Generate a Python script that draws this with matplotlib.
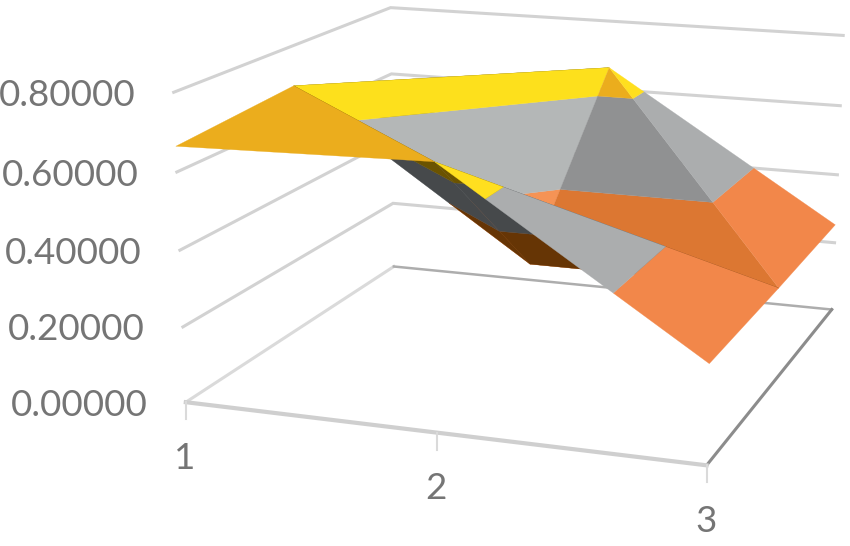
import numpy as np
import matplotlib
matplotlib.use("Agg")
import matplotlib.pyplot as plt

plt.rcParams['font.family'] = ['Lato', 'DejaVu Sans']

# values, one row per series (front to back), one column per category
categories = ['1', '2', '3']
z_ticks = [0.0, 0.2, 0.4, 0.6, 0.8]
series1 = [0.665, 0.68, 0.252]
series2 = [0.69, 0.25, 0.25]
series3 = [0.45, 0.664, 0.253]
Z = np.array([series1, series2, series3])

# where the chart frame sits in the picture: (u, v, z) -> pixel
frame_3d = [(0, 0, 0), (1, 0, 0), (1, 1, 0), (0, 1, 0),
            (0, 0, 0.8), (0, 1, 0.8), (1, 1, 0.8),
            (0, 0, 0.4), (0, 1, 0.4), (1, 1, 0.4)]
frame_px = [(187, 402), (707, 465), (832, 310), (393, 267),
            (173, 93), (392, 8), (843, 35),
            (179, 250), (392, 138), (837, 175)]

A = []
b = []
for (u, v, z), (px, py) in zip(frame_3d, frame_px):
    A.append([u, v, z, 1, 0, 0, 0, 0, -px * u, -px * v, -px * z])
    b.append(px)
    A.append([0, 0, 0, 0, u, v, z, 1, -py * u, -py * v, -py * z])
    b.append(py)
h = np.linalg.lstsq(np.array(A, float), np.array(b, float), rcond=None)[0]
P = np.append(h, 1).reshape(3, 4)


def project(u, v, z):
    p = P @ np.array([u, v, z, 1.0])
    return p[0] / p[2], p[1] / p[2]


def clip(poly, level, keep_above):
    # cut a polygon at a height, keeps the part above or below
    out = []
    for i in range(len(poly)):
        a = poly[i]
        c = poly[(i + 1) % len(poly)]
        a_in = (a[2] >= level) == keep_above
        c_in = (c[2] >= level) == keep_above
        if a_in:
            out.append(a)
        if a_in != c_in:
            t = (level - a[2]) / (c[2] - a[2])
            out.append(tuple(np.array(a) + t * (np.array(c) - np.array(a))))
    return out


# colours per height band 0.2-0.4, 0.4-0.6, 0.6-0.8, by lighting of a face
under = ['#663505', '#46494B', '#6B5300']
lit = ['#F2874A', '#ABADAE', '#FFDF1F']
top = ['#F59355', '#B4B7B7', '#FDE01C']
shade = ['#DC7732', '#909192', '#EBAD1D']
bands = [0.2, 0.4, 0.6, 0.8]

# triangles as (category, series) corners, back to front
triangles = [
    ([(0, 1), (0, 2), (1, 2)], under),
    ([(0, 1), (1, 1), (1, 2)], top),
    ([(1, 1), (2, 1), (1, 2)], shade),
    ([(1, 2), (2, 1), (2, 2)], lit),
    ([(0, 1), (1, 0), (1, 1)], under),
    ([(1, 0), (1, 1), (2, 1)], under),
    ([(0, 0), (0, 1), (1, 0)], shade),
    ([(1, 0), (2, 0), (2, 1)], lit),
]

fig = plt.figure(figsize=(8.5, 5.46), dpi=100)
ax = fig.add_axes([0, 0, 1, 1])
ax.set_xlim(0, 850)
ax.set_ylim(546, 0)
ax.axis('off')

# gridlines on the two back walls
for z in z_ticks[1:]:
    xs, ys = zip(project(0, 0, z), project(0, 1, z), project(1, 1, z))
    ax.plot(xs, ys, color='#D2D2D2', lw=2.2, solid_joinstyle='miter', zorder=1)

# floor
xs, ys = zip(project(0, 0, 0), project(0, 1, 0))
ax.plot(xs, ys, color='#DADADA', lw=2.2, zorder=1)
xs, ys = zip(project(0, 1, 0), project(1, 1, 0))
ax.plot(xs, ys, color='#ADADAD', lw=1.8, zorder=1)
xs, ys = zip(project(1, 1, 0), project(1, 0, 0))
ax.plot(xs, ys, color='#8C8C8C', lw=2.2, zorder=1)
xs, ys = zip(project(0, 0, 0), project(1, 0, 0))
ax.plot(xs, ys, color='#CFCFCF', lw=3.0, zorder=1)

# surface
order = 2
for corners, colors in triangles:
    tri = [(i / 2, j / 2, Z[j, i]) for i, j in corners]
    for k in range(len(bands) - 1):
        poly = clip(tri, bands[k], True)
        if poly:
            poly = clip(poly, bands[k + 1], False)
        if len(poly) < 3:
            continue
        pts = [project(*p) for p in poly]
        xs, ys = zip(*pts)
        ax.fill(xs, ys, color=colors[k], lw=0.2, zorder=order)
    order += 1

# category ticks and labels
for i, label in enumerate(categories):
    x0, y0 = project(i / 2, 0, 0)
    ax.plot([x0, x0], [y0, y0 + 17], color='#DADADA', lw=1.5, zorder=1)
    ax.text(x0 - 1, y0 + 56, label, color='#757575', fontsize=26.5, ha='center', va='center')

# value labels
for z in z_ticks:
    x0, y0 = project(0, 0, z)
    ax.text(x0 - 38, y0 + 3, '%.5f' % z, color='#757575', fontsize=26.5, ha='right', va='center')

fig.savefig('out.png', dpi=100)
